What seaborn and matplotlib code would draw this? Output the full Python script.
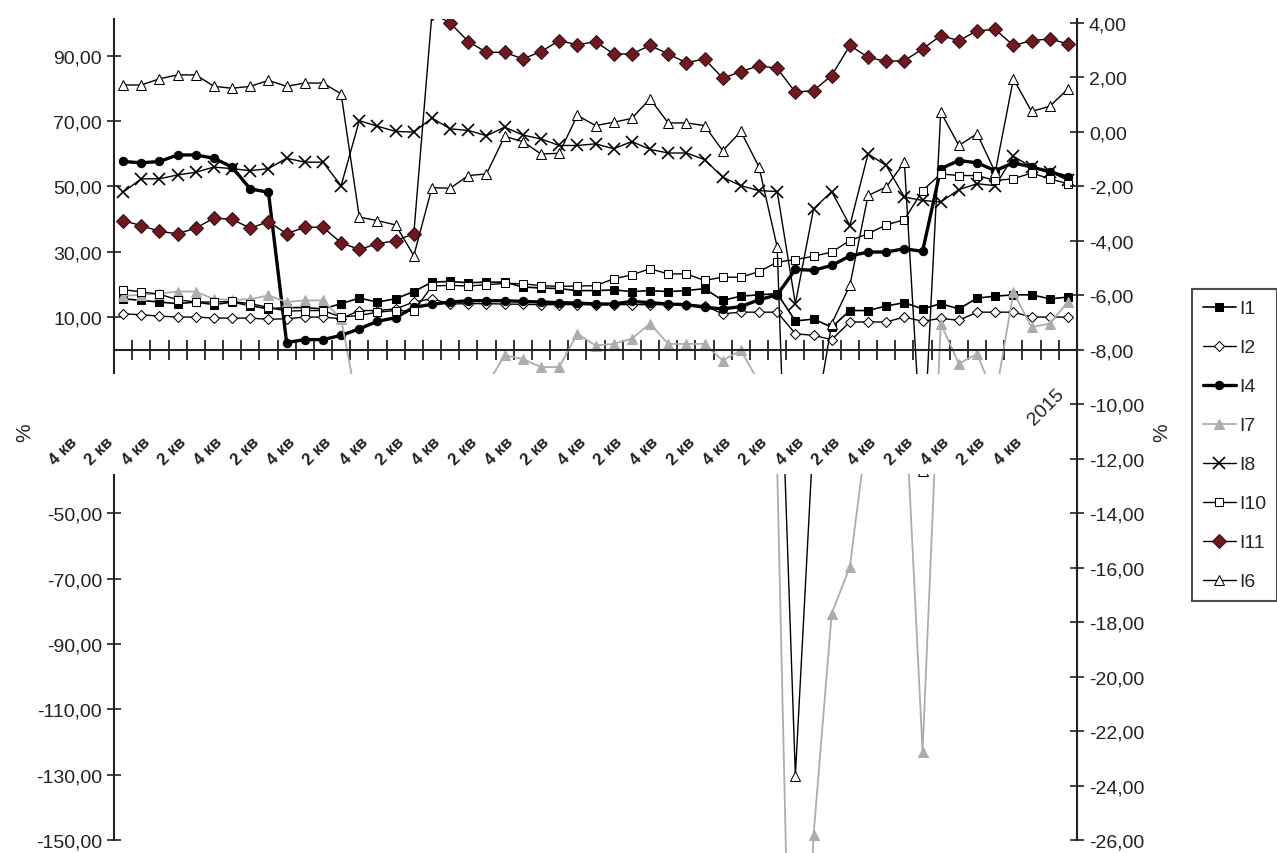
import numpy as np
import matplotlib
matplotlib.use('Agg')
import matplotlib.pyplot as plt
import matplotlib.transforms as mtransforms
from matplotlib.patches import Rectangle
from matplotlib.ticker import FuncFormatter
import seaborn as sns

# Данные (значения по левой оси, %)
n_cat = 53
kvartaly = list(range(n_cat))
podpisi = ['4 кв' if k % 2 == 0 else '2 кв' for k in range(27)]
podpis_god = '2015'

I1 = [15.6, 15.1, 14.6, 14.1, 14.6, 13.8, 14.6, 13.5, 12.5, 12.9, 12.9, 12.5, 14.1, 15.8, 14.6, 15.6, 17.8, 20.7,
      20.9, 20.5, 20.7, 20.7, 19.2, 18.9, 18.7, 18.1, 18.1, 18.3, 17.8, 18.1, 17.8, 18.1, 18.7, 15.1, 16.4, 16.8,
      17.2, 8.8, 9.4, 6.9, 12.0, 12.0, 13.4, 14.4, 12.5, 14.1, 12.5, 15.8, 16.4, 16.8, 16.8, 15.6, 16.1]
I2 = [11.0, 10.7, 10.3, 10.0, 10.0, 9.7, 9.7, 9.7, 9.3, 9.5, 10.0, 10.0, 9.5, 12.0, 12.0, 12.5, 14.6, 15.6,
      14.0, 14.1, 14.1, 14.0, 13.9, 13.8, 13.8, 13.8, 13.8, 13.8, 13.8, 13.8, 13.8, 13.8, 13.5, 11.0, 11.5, 11.5,
      11.5, 4.9, 4.4, 3.1, 8.5, 8.5, 8.5, 10.0, 8.7, 9.6, 9.0, 11.5, 11.5, 11.5, 10.0, 10.0, 10.0]
I4 = [57.6, 57.2, 57.6, 59.6, 59.6, 58.6, 55.9, 49.2, 48.2, 2.2, 3.1, 3.1, 4.4, 6.4, 8.7, 9.8, 13.0, 13.9,
      14.6, 15.0, 15.0, 15.0, 14.8, 14.6, 14.4, 14.3, 14.0, 14.0, 14.8, 14.4, 14.0, 13.8, 13.0, 12.5, 13.2, 15.3,
      16.8, 24.6, 24.3, 25.8, 28.7, 29.9, 29.9, 30.9, 30.1, 55.4, 57.9, 57.2, 54.8, 57.2, 55.9, 54.5, 52.8]
I7 = [16.5, 16.8, 17.2, 17.8, 17.8, 15.5, 15.3, 15.5, 16.6, 14.6, 15.1, 15.1, 9.5, -20, -26, -22, -25, -21,
      -18, -15, -11, -1.7, -2.8, -5.3, -5.3, 4.9, 1.3, 1.8, 3.4, 8.0, 1.8, 1.8, 1.8, -3.3, -0.2, -10,
      -36, -280, -148.6, -80.7, -66.4, -22.5, -20, -10, -123, 8.0, -4.3, -1.2, -15, 17.6, 6.9, 8.0, 14.6]
I8 = [48.2, 52.3, 52.3, 53.5, 54.3, 55.9, 55.4, 54.8, 55.4, 58.6, 57.4, 57.4, 50.2, 70.1, 68.4, 66.8, 66.6, 70.9,
      67.6, 67.1, 65.5, 68.1, 65.7, 64.5, 62.5, 62.5, 63.0, 61.5, 63.7, 61.3, 60.2, 60.2, 58.2, 52.8, 50.2, 48.7,
      48.4, 14.1, 43.1, 48.4, 38.0, 59.9, 56.4, 46.7, 45.7, 45.2, 49.0, 50.8, 50.2, 59.2, 55.9, 54.5, 51.8]
I10 = [18.4, 17.7, 17.0, 15.3, 14.6, 14.6, 14.8, 14.1, 13.0, 11.8, 12.0, 12.0, 10.0, 10.5, 11.5, 12.0, 11.8, 19.5,
       19.7, 19.5, 19.9, 20.3, 20.2, 19.6, 19.4, 19.5, 19.6, 21.7, 22.9, 24.8, 23.2, 23.2, 21.2, 22.2, 22.2, 23.9,
       26.8, 27.6, 28.6, 29.9, 33.4, 35.5, 38.2, 39.8, 48.7, 53.8, 53.3, 53.3, 51.8, 52.3, 54.1, 52.3, 50.8]
I11 = [39.5, 38.0, 36.2, 35.5, 37.2, 40.3, 39.9, 37.2, 39.2, 35.5, 37.5, 37.5, 32.7, 30.7, 32.4, 33.4, 35.5, 103,
       100, 94.3, 91.0, 91.0, 89.0, 91.2, 94.6, 93.3, 94.3, 90.5, 90.5, 93.1, 90.5, 87.8, 89.0, 83.1, 85.1, 86.9,
       86.1, 78.8, 79.3, 83.9, 93.1, 89.5, 88.2, 88.5, 92.0, 96.1, 94.6, 97.6, 98.0, 93.1, 94.6, 95.1, 93.6]
I6 = [81.0, 81.0, 82.9, 84.1, 84.1, 80.6, 80.0, 80.6, 82.4, 80.6, 81.6, 81.6, 78.3, 40.6, 39.5, 38.2, 28.8, 49.6,
      49.4, 53.3, 53.8, 65.3, 63.7, 59.9, 60.1, 71.7, 68.6, 69.6, 70.8, 76.8, 69.4, 69.4, 68.6, 60.9, 66.8, 55.9,
      31.4, -130.3, -25, 8, 19.7, 47.2, 49.8, 57.4, -37, 72.7, 62.5, 66.1, 54.3, 82.9, 72.9, 74.5, 79.8]

sns.set_style('white')
plt.rcParams['font.family'] = ['Liberation Sans Narrow', 'Liberation Sans', 'DejaVu Sans']

W, H = 1277, 854
fig = plt.figure(figsize=(W / 100, H / 100), dpi=100)
ax = fig.add_axes([114 / W, 1 - 841 / H, (1077 - 114) / W, (841 - 20) / H])

# стиль каждой серии
stili = [
    ('I1', I1, dict(color='black', marker='s', mfc='black', mec='black', ms=6, lw=1.2)),
    ('I2', I2, dict(color='black', marker='D', mfc='white', mec='black', ms=5, lw=1.0)),
    ('I4', I4, dict(color='black', marker='o', mfc='black', mec='black', ms=6, lw=2.4)),
    ('I7', I7, dict(color='#adadad', marker='^', mfc='#adadad', mec='#adadad', ms=7, lw=1.3)),
    ('I8', I8, dict(color='black', marker='x', mec='black', ms=8, mew=1.2, lw=1.0)),
    ('I10', I10, dict(color='black', marker='s', mfc='white', mec='black', ms=6, lw=1.0)),
    ('I11', I11, dict(color='black', marker='D', mfc='#6e1822', mec='#3c0b10', ms=7, lw=1.0)),
    ('I6', I6, dict(color='black', marker='^', mfc='white', mec='black', ms=7, lw=1.0)),
]

handles = []
for name, vals, st in stili:
    clip = name not in ('I7', 'I6')
    sns.lineplot(x=kvartaly, y=vals, ax=ax, label=name, clip_on=clip, **st)
    handles.append(ax.lines[-1])
ax.get_legend().remove()

ax.set_xlim(-0.5, n_cat - 0.5)
ax.set_ylim(-150, 101.2)
ax.set_yticks(np.arange(-150, 91, 20))
fmt = FuncFormatter(lambda v, p: f'{v:.2f}'.replace('.', ','))
ax.yaxis.set_major_formatter(fmt)
ax.tick_params(axis='y', left=True, direction='inout', length=10, width=1.2, labelsize=14, colors='#222222')

ax.set_xticks(np.arange(-0.5, n_cat, 1.0))
ax.tick_params(axis='x', bottom=True, direction='inout', length=14, width=1.3, labelbottom=False,
               colors='#222222')
ax.spines['bottom'].set_position(('data', 0))
for s in ['top', 'right']:
    ax.spines[s].set_visible(False)
for s in ['left', 'bottom']:
    ax.spines[s].set_linewidth(1.5)
    ax.spines[s].set_color('#222222')
ax.set_xlabel('')
ax.set_ylabel('')

# правая ось
ax2 = ax.twinx()
ax2.set_ylim(-26, -8 + 101.2 * 18 / 150)
ax2.set_yticks(np.arange(-26, 5, 2))
ax2.yaxis.set_major_formatter(fmt)
ax2.tick_params(axis='y', right=True, direction='inout', length=10, width=1.2, labelsize=14, colors='#222222')
for s in ['top', 'left', 'bottom']:
    ax2.spines[s].set_visible(False)
ax2.spines['right'].set_linewidth(1.5)
ax2.spines['right'].set_color('#222222')

# белая полоса под подписями категорий
ax.add_patch(Rectangle((30 / W, 1 - 475 / H), (1074 - 30) / W, 100 / H, transform=fig.transFigure,
                       facecolor='white', edgecolor='none', zorder=5, clip_on=False))

off = mtransforms.offset_copy(ax.transData, fig=fig, x=-60, y=-101, units='dots')
for k, lab in enumerate(podpisi):
    ax.text(2 * k, 0, lab, transform=off, rotation=45, ha='center', va='center',
            fontsize=12, fontweight='bold', color='#222222', zorder=6)
off2 = mtransforms.offset_copy(ax.transData, fig=fig, x=-22, y=-57, units='dots')
ax.text(n_cat - 1, 0, podpis_god, transform=off2, rotation=45, ha='center', va='center',
        fontsize=14, color='#222222', zorder=6)

fig.text(25 / W, 1 - 433 / H, '%', rotation=90, ha='center', va='center', fontsize=15)
fig.text(1162 / W, 1 - 433 / H, '%', rotation=90, ha='center', va='center', fontsize=15)

leg = fig.legend(handles=handles, labels=[s[0] for s in stili], loc='upper left',
                 bbox_to_anchor=(1192 / W, 1 - 290 / H), bbox_transform=fig.transFigure,
                 frameon=True, fancybox=False, fontsize=14, handlelength=1.7, labelspacing=1.1,
                 handletextpad=0.2, borderpad=0.55, borderaxespad=0)
leg.get_frame().set_edgecolor('#222222')
leg.get_frame().set_linewidth(1.5)

fig.savefig('out.png', dpi=100)
